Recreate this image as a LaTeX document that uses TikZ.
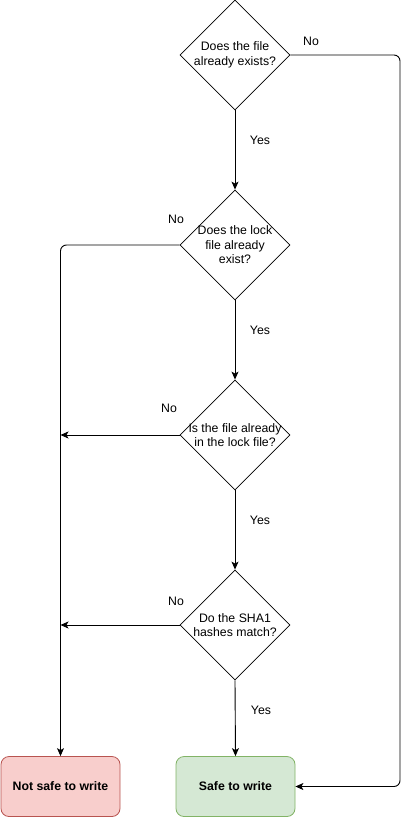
\documentclass[tikz,border=0pt]{standalone}
\usepackage{fontspec}
\setmainfont{Liberation Sans}
\usetikzlibrary{shapes.geometric,arrows.meta}
\definecolor{nosafe}{HTML}{F8CECC}
\definecolor{nosafeline}{HTML}{B85450}
\definecolor{safe}{HTML}{D5E8D4}
\definecolor{safeline}{HTML}{82B366}

\tikzset{
  question/.style={draw, line width=0.8pt, diamond, aspect=1, inner sep=0pt,
                   minimum width=110pt, minimum height=110pt},
  qtext/.style={align=center, font=\fontsize{12.3}{14.5}\selectfont},
  endbox/.style={draw, line width=0.8pt, rounded corners=8pt, minimum width=119pt,
                 minimum height=60pt, font=\fontsize{12.3}{14}\selectfont\bfseries},
  answer/.style={font=\fontsize{12.3}{14}\selectfont},
  flow/.style={draw, line width=0.9pt, rounded corners=6pt,
               -{Stealth[length=8pt,width=7pt,inset=2pt]}}
}

\begin{document}
\begin{tikzpicture}[x=1pt, y=-1pt]
    \useasboundingbox (0,0) rectangle (409,817);

    % Questions
    \node[question] (exists) at (235,55) {};
    \node[qtext] at (exists.center) {Does the file\\already exists?};
    \node[question] (lockfile) at (235,245) {};
    \node[qtext] at (lockfile.center) {Does the lock\\file already\\exist?};
    \node[question] (inlock) at (235,435) {};
    \node[qtext] at (inlock.center) {Is the file already\\in the lock file?};
    \node[question] (hashes) at (235,625) {};
    \node[qtext] at (hashes.center) {Do the SHA1\\hashes match?};

    % Results
    \node[endbox, draw=nosafeline, fill=nosafe] (unsafe) at (60.5,786.5) {Not safe to write};
    \node[endbox, draw=safeline, fill=safe] (safe) at (235.5,786.5) {Safe to write};

    % Yes branches
    \draw[flow] (exists.south) -- (lockfile.north);
    \draw[flow] (lockfile.south) -- (inlock.north);
    \draw[flow] (inlock.south) -- (hashes.north);
    \draw[flow] (hashes.south) -- (safe.north);
    \node[answer] at (260,140) {Yes};
    \node[answer] at (260,330) {Yes};
    \node[answer] at (260,520) {Yes};
    \node[answer] at (261,710) {Yes};

    % No branches
    \coordinate (rside) at (400,55);
    \draw[flow] (exists.east) -- (rside) |- (safe.east);
    \draw[flow] (lockfile.west) -| (unsafe.north);
    \draw[flow] (inlock.west) -- (inlock.west -| unsafe.north);
    \draw[flow] (hashes.west) -- (hashes.west -| unsafe.north);
    \node[answer] at (311,41) {No};
    \node[answer] at (176,219) {No};
    \node[answer] at (169,408) {No};
    \node[answer] at (176,601) {No};
\end{tikzpicture}
\end{document}
